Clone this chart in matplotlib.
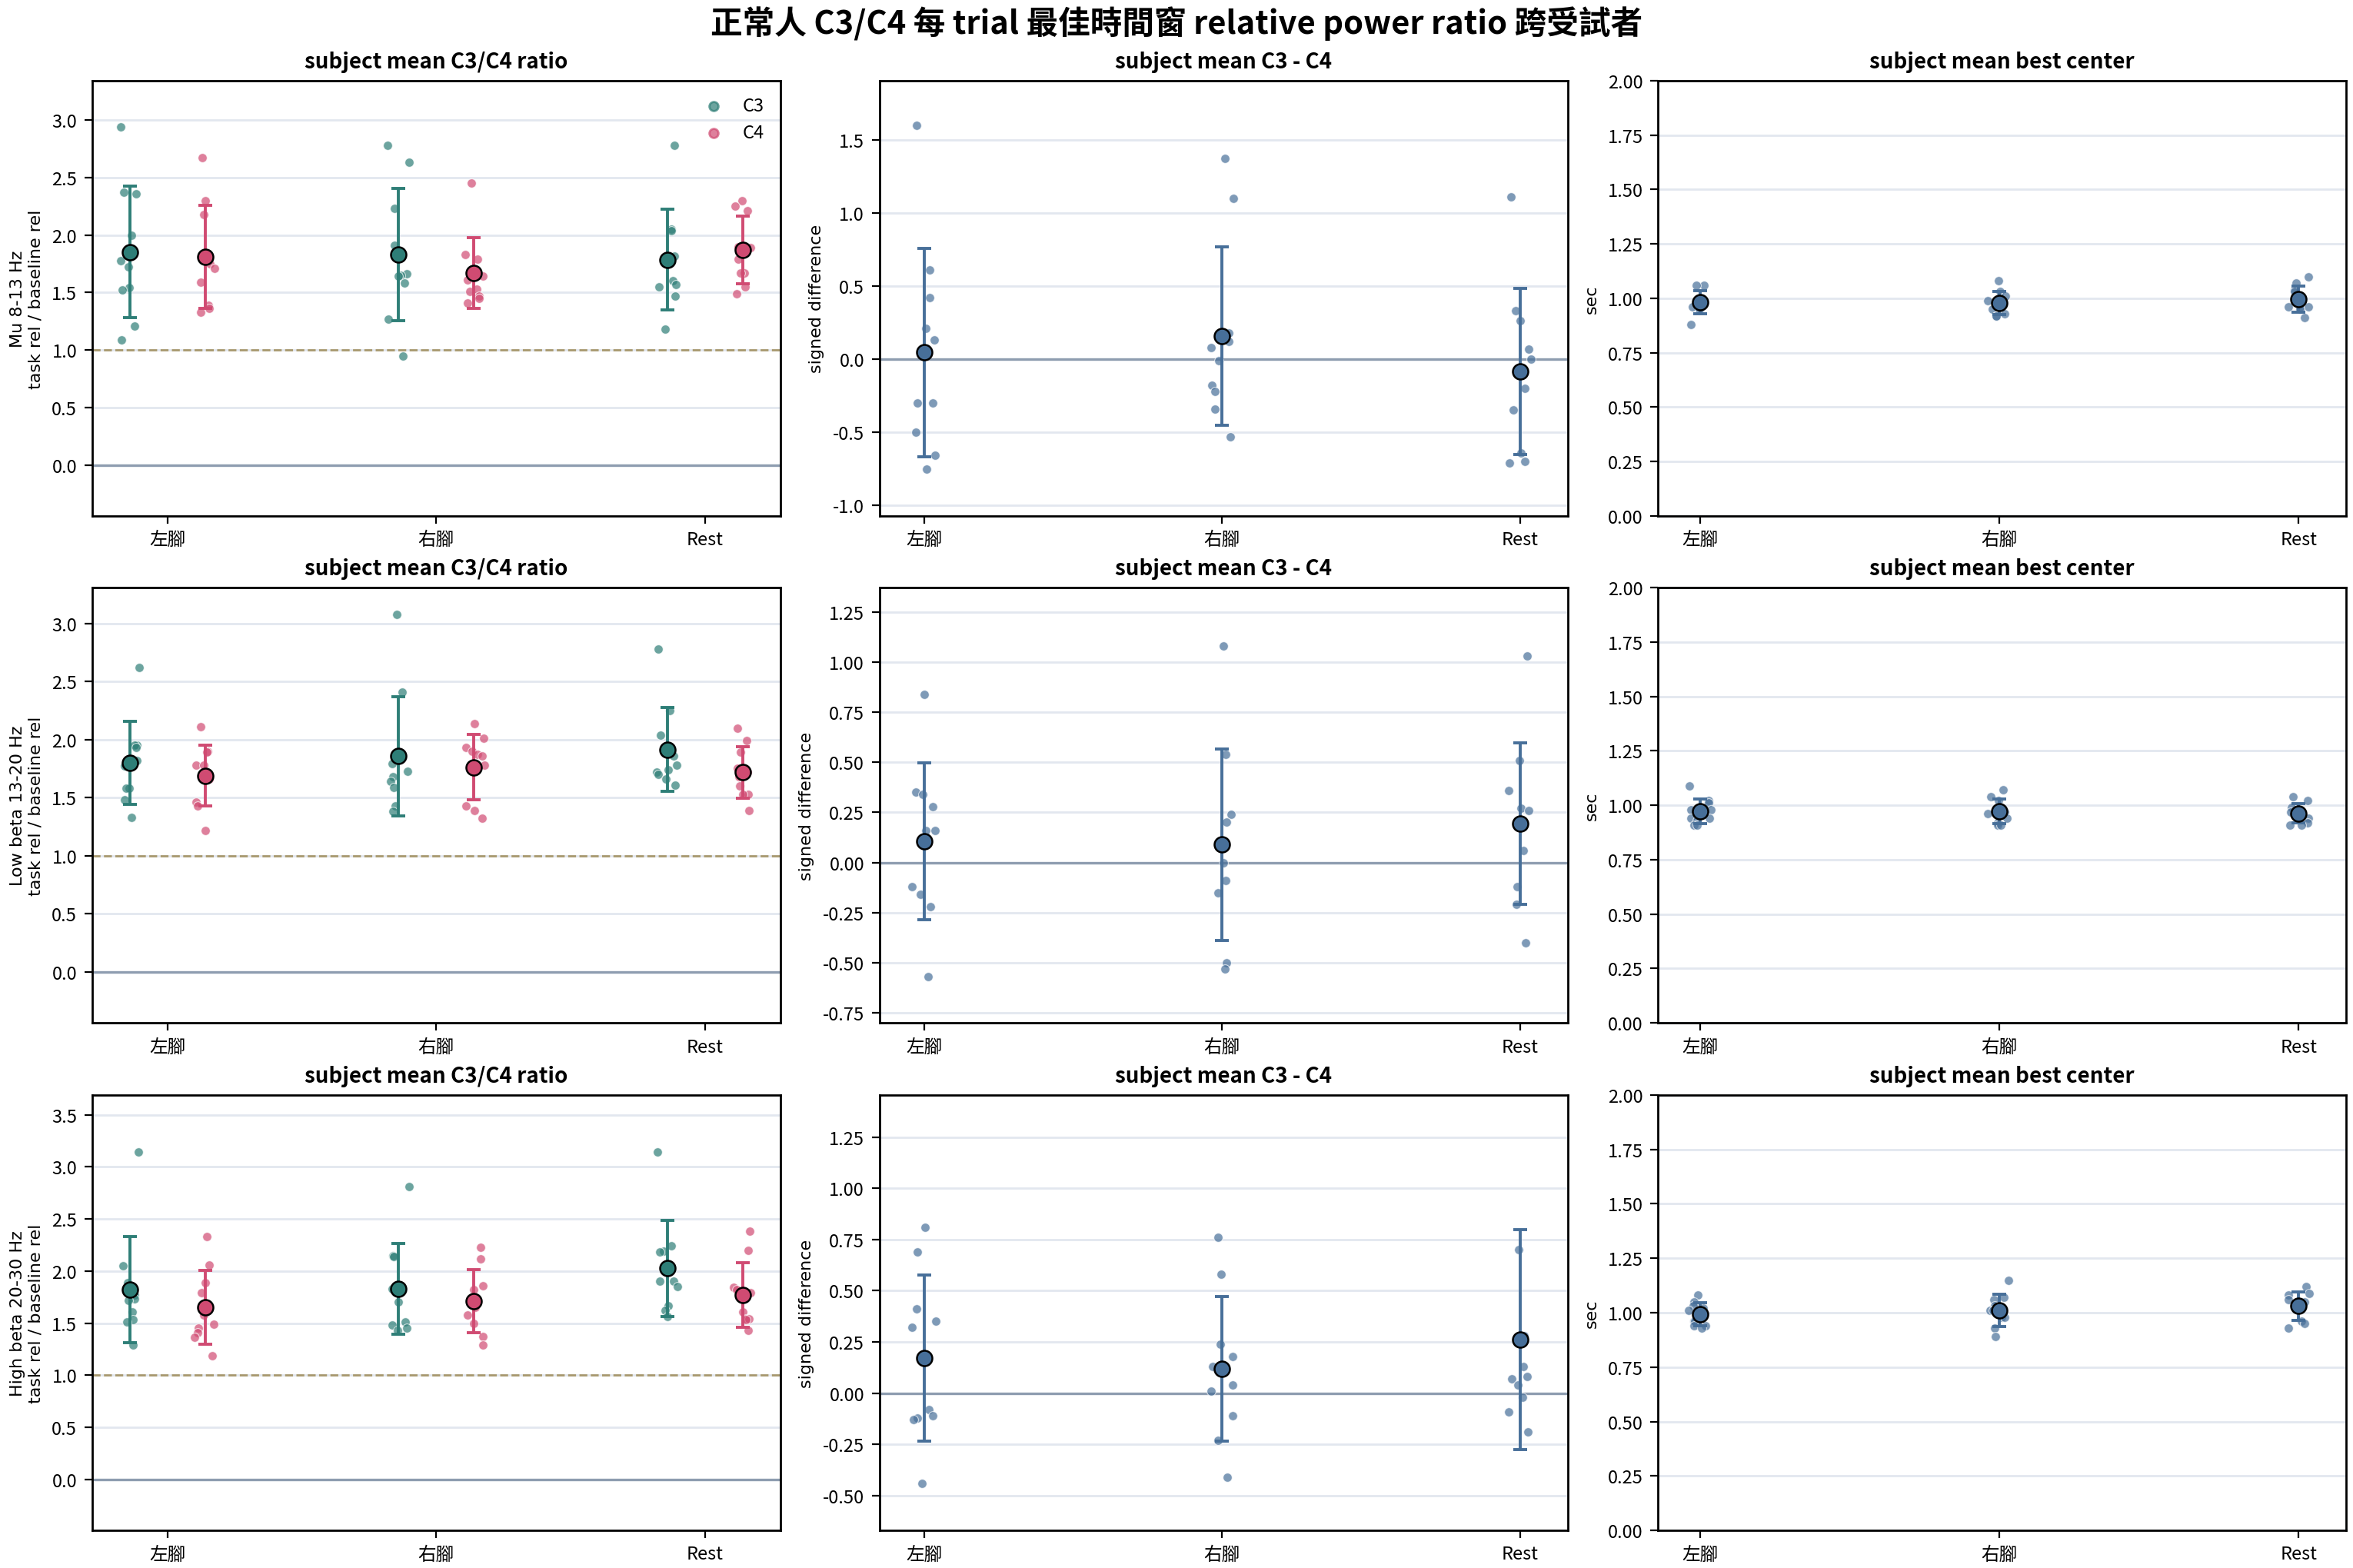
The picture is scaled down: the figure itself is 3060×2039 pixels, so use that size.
# C3/C4 best-window relative power ratio across subjects
# 3 bands x (ratio, C3-C4 difference, best center)

import matplotlib
matplotlib.use("Agg")
import matplotlib.pyplot as plt
import numpy as np

plt.rcParams['font.family'] = ['Noto Sans CJK TC', 'DejaVu Sans']
plt.rcParams['axes.unicode_minus'] = False

conditions = ['左腳', '右腳', 'Rest']
band_labels = ['Mu 8-13 Hz', 'Low beta 13-20 Hz', 'High beta 20-30 Hz']

# subject means, one list per condition (左腳, 右腳, Rest)
mu_c3 = [[2.94, 2.37, 2.36, 2.00, 1.78, 1.72, 1.54, 1.52, 1.21, 1.09],
         [2.78, 2.63, 2.23, 1.91, 1.66, 1.65, 1.64, 1.58, 1.27, 0.95],
         [2.78, 2.05, 2.04, 1.82, 1.80, 1.60, 1.57, 1.55, 1.47, 1.18]]
mu_c4 = [[2.67, 2.30, 2.18, 1.82, 1.75, 1.71, 1.59, 1.39, 1.36, 1.33],
         [2.45, 1.83, 1.79, 1.64, 1.61, 1.53, 1.51, 1.47, 1.45, 1.41],
         [2.30, 2.25, 2.21, 1.90, 1.89, 1.79, 1.67, 1.67, 1.55, 1.49]]
mu_diff = [[1.60, 0.61, 0.42, 0.21, 0.13, -0.30, -0.30, -0.50, -0.66, -0.75],
           [1.37, 1.10, 0.18, 0.12, 0.08, -0.01, -0.18, -0.22, -0.34, -0.53],
           [1.11, 0.33, 0.26, 0.07, 0.00, -0.20, -0.35, -0.64, -0.70, -0.71]]
mu_center = [[1.06, 1.06, 1.00, 0.99, 0.98, 0.97, 0.96, 0.96, 0.95, 0.88],
             [1.08, 1.03, 1.01, 0.99, 0.99, 0.96, 0.95, 0.93, 0.92, 0.92],
             [1.10, 1.07, 1.04, 1.03, 0.99, 0.96, 0.96, 0.96, 0.95, 0.91]]

lb_c3 = [[2.62, 1.95, 1.95, 1.93, 1.82, 1.77, 1.58, 1.58, 1.48, 1.33],
         [3.08, 2.41, 1.84, 1.79, 1.73, 1.68, 1.64, 1.59, 1.43, 1.38],
         [2.78, 2.25, 2.04, 1.86, 1.78, 1.74, 1.72, 1.70, 1.66, 1.61]]
lb_c4 = [[2.11, 1.90, 1.89, 1.78, 1.78, 1.67, 1.66, 1.46, 1.43, 1.22],
         [2.14, 2.01, 1.93, 1.90, 1.87, 1.86, 1.78, 1.43, 1.39, 1.32],
         [2.10, 1.99, 1.89, 1.75, 1.72, 1.68, 1.60, 1.53, 1.53, 1.39]]
lb_diff = [[0.84, 0.35, 0.34, 0.28, 0.16, 0.16, -0.12, -0.16, -0.22, -0.57],
           [1.08, 0.54, 0.24, 0.20, 0.10, 0.00, -0.09, -0.15, -0.50, -0.53],
           [1.03, 0.51, 0.36, 0.27, 0.26, 0.18, 0.06, -0.12, -0.21, -0.40]]
lb_center = [[1.09, 1.02, 1.01, 0.98, 0.98, 0.94, 0.94, 0.93, 0.91, 0.91],
             [1.07, 1.04, 1.02, 0.97, 0.97, 0.96, 0.94, 0.92, 0.91, 0.91],
             [1.04, 1.02, 0.99, 0.97, 0.97, 0.96, 0.94, 0.92, 0.91, 0.91]]

hb_c3 = [[3.14, 2.05, 1.89, 1.77, 1.73, 1.72, 1.61, 1.53, 1.51, 1.29],
         [2.81, 2.15, 2.14, 1.83, 1.82, 1.70, 1.51, 1.48, 1.45, 1.43],
         [3.14, 2.24, 2.19, 2.18, 1.90, 1.90, 1.85, 1.67, 1.62, 1.56]]
hb_c4 = [[2.33, 2.06, 1.89, 1.79, 1.58, 1.49, 1.45, 1.41, 1.36, 1.19],
         [2.23, 2.12, 1.86, 1.82, 1.71, 1.65, 1.58, 1.50, 1.37, 1.29],
         [2.38, 2.20, 1.84, 1.82, 1.79, 1.61, 1.54, 1.54, 1.53, 1.43]]
hb_diff = [[0.81, 0.69, 0.41, 0.35, 0.32, -0.08, -0.11, -0.12, -0.13, -0.44],
           [0.76, 0.58, 0.24, 0.18, 0.13, 0.04, 0.01, -0.11, -0.23, -0.41],
           [1.62, 0.70, 0.28, 0.13, 0.08, 0.07, 0.04, -0.02, -0.09, -0.19]]
hb_center = [[1.08, 1.05, 1.03, 1.02, 1.01, 0.96, 0.96, 0.94, 0.94, 0.93],
             [1.15, 1.07, 1.06, 1.03, 1.01, 1.01, 0.98, 0.98, 0.93, 0.89],
             [1.12, 1.09, 1.08, 1.06, 1.05, 1.04, 1.02, 0.96, 0.95, 0.93]]

bands = [(mu_c3, mu_c4, mu_diff, mu_center),
         (lb_c3, lb_c4, lb_diff, lb_center),
         (hb_c3, hb_c4, hb_diff, hb_center)]

ratio_ylims = [(-0.44, 3.34), (-0.44, 3.31), (-0.49, 3.69)]
diff_ylims = [(-1.073, 1.904), (-0.799, 1.371), (-0.669, 1.455)]

# colors
c3_color = '#2e7e77'
c4_color = '#d04b72'
diff_color = '#476f99'
grid_color = '#e2e7ef'
zero_color = '#8e9db0'
ref_color = '#a8996e'

rng = np.random.default_rng(3)


def draw_group(ax, x, values, color):
    vals = np.asarray(values)
    jitter = rng.uniform(-0.04, 0.04, len(vals))
    ax.scatter(x + jitter, vals, s=18, color=color, alpha=0.7,
               edgecolor='white', linewidth=0.4, zorder=2)
    ax.errorbar(x, vals.mean(), yerr=vals.std(ddof=1), color=color,
                elinewidth=1.4, capsize=3.2, capthick=1.4, fmt='none', zorder=3)
    ax.plot(x, vals.mean(), 'o', color=color, markersize=7.2,
            markeredgecolor='black', markeredgewidth=0.9, zorder=4)


def style_axes(ax, title, ylabel):
    ax.set_title(title, fontsize=10, fontweight='bold', pad=6)
    ax.set_ylabel(ylabel, fontsize=8, family='DejaVu Sans')
    ax.set_xticks(range(len(conditions)))
    ax.set_xticklabels(conditions)
    ax.tick_params(labelsize=8.5)
    ax.yaxis.grid(True, color=grid_color, linewidth=1.0)
    ax.set_axisbelow(True)
    for sp in ax.spines.values():
        sp.set_linewidth(1.0)


fig = plt.figure(figsize=(15.3, 10.2), dpi=200)

col_left = [0.0391, 0.3737, 0.7046]
row_bottom = [0.6706, 0.3475, 0.0240]
ax_w = 0.2926
ax_h = 0.2775
x = np.arange(len(conditions))

for r, (c3, c4, diff, center) in enumerate(bands):
    # ratio panel
    ax = fig.add_axes([col_left[0], row_bottom[r], ax_w, ax_h])
    for i in range(len(conditions)):
        draw_group(ax, x[i] - 0.14, c3[i], c3_color)
        draw_group(ax, x[i] + 0.14, c4[i], c4_color)
    ax.axhline(1.0, color=ref_color, linestyle='--', linewidth=1.0, zorder=1)
    ax.axhline(0.0, color=zero_color, linewidth=1.2, zorder=1)
    ax.set_xlim(-0.28, 2.28)
    ax.set_ylim(*ratio_ylims[r])
    style_axes(ax, 'subject mean C3/C4 ratio', band_labels[r] + '\ntask rel / baseline rel')
    if r == 0:
        h1 = ax.scatter([], [], s=18, color=c3_color, alpha=0.7, label='C3')
        h2 = ax.scatter([], [], s=18, color=c4_color, alpha=0.7, label='C4')
        ax.legend(handles=[h1, h2], loc='upper right', frameon=False,
                  fontsize=8.5, handletextpad=0.6, borderaxespad=0.5)

    # difference panel
    ax = fig.add_axes([col_left[1], row_bottom[r], ax_w, ax_h])
    for i in range(len(conditions)):
        draw_group(ax, x[i], diff[i], diff_color)
    ax.axhline(0.0, color=zero_color, linewidth=1.2, zorder=1)
    ax.set_xlim(-0.15, 2.16)
    ax.set_ylim(*diff_ylims[r])
    style_axes(ax, 'subject mean C3 - C4', 'signed difference')

    # best center panel
    ax = fig.add_axes([col_left[2], row_bottom[r], ax_w, ax_h])
    for i in range(len(conditions)):
        draw_group(ax, x[i], center[i], diff_color)
    ax.set_xlim(-0.14, 2.16)
    ax.set_ylim(0, 2)
    style_axes(ax, 'subject mean best center', 'sec')

fig.suptitle('正常人 C3/C4 每 trial 最佳時間窗 relative power ratio 跨受試者',
             fontsize=15, fontweight='bold', y=0.996)

fig.savefig('out.png', dpi=200)
